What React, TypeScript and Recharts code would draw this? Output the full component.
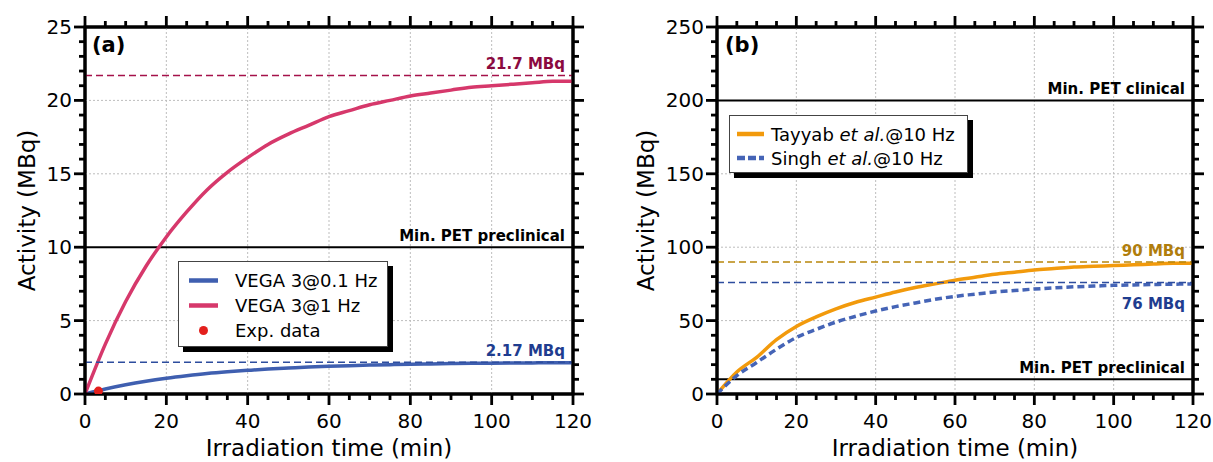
import React from 'react';
import { ComposedChart, Line, Scatter, XAxis, YAxis, ReferenceLine, ReferenceArea, Legend } from 'recharts';

const FONT = '"DejaVu Sans", Verdana, sans-serif';

// ---------- data ----------
const timeMin = [0, 5, 10, 15, 20, 25, 30, 35, 40, 45, 50, 55, 60, 65, 70, 75, 80, 85, 90, 95, 100, 105, 110, 115, 120];
const vega01Hz = [0, 0.34, 0.63, 0.87, 1.07, 1.24, 1.39, 1.51, 1.61, 1.7, 1.77, 1.84, 1.89, 1.93, 1.97, 2.0, 2.03, 2.05, 2.07, 2.09, 2.1, 2.11, 2.12, 2.13, 2.13];
const vega1Hz = [0, 3.4, 6.3, 8.7, 10.7, 12.4, 13.9, 15.1, 16.1, 17.0, 17.7, 18.3, 18.9, 19.3, 19.7, 20.0, 20.3, 20.5, 20.7, 20.9, 21.0, 21.1, 21.2, 21.3, 21.3];
const expTime = [3.3];
const expActivity = [0.2];
const tayyab10Hz = [0, 15, 25, 37, 46, 52.5, 58, 62.5, 66, 69.5, 72.5, 75, 77.5, 79.5, 81.5, 83, 84.5, 85.5, 86.5, 87, 87.5, 88, 88.5, 89, 89];
const singh10Hz = [0, 12.5, 21.5, 30.5, 38.5, 44, 49, 53, 56.5, 59.5, 62, 64.5, 66.5, 68, 69.5, 70.5, 71.5, 72.3, 73, 73.5, 74, 74.3, 74.6, 74.8, 75];

const xTicks = [0, 5, 10, 15, 20, 25, 30, 35, 40, 45, 50, 55, 60, 65, 70, 75, 80, 85, 90, 95, 100, 105, 110, 115, 120];
const yTicksA = [0, 1, 2, 3, 4, 5, 6, 7, 8, 9, 10, 11, 12, 13, 14, 15, 16, 17, 18, 19, 20, 21, 22, 23, 24, 25];
const yTicksB = [0, 10, 20, 30, 40, 50, 60, 70, 80, 90, 100, 110, 120, 130, 140, 150, 160, 170, 180, 190, 200, 210, 220, 230, 240, 250];
const gridX = [20, 40, 60, 80, 100];
const gridYA = [5, 15, 20];
const gridYB = [50, 100, 150];

const satA1Hz = 21.7;
const satA01Hz = 2.17;
const preclinicalA = 10;
const clinicalB = 200;
const preclinicalB = 10;
const satTayyab = 90;
const satSingh = 76;

const dataVega01 = timeMin.map((t, i) => ({ t, v: vega01Hz[i] }));
const dataVega1 = timeMin.map((t, i) => ({ t, v: vega1Hz[i] }));
const dataExp = expTime.map((t, i) => ({ t, v: expActivity[i] }));
const dataTayyab = timeMin.map((t, i) => ({ t, v: tayyab10Hz[i] }));
const dataSingh = timeMin.map((t, i) => ({ t, v: singh10Hz[i] }));

// ---------- colors ----------
const BLUE = '#3f5fb0';
const PINK = '#d6386b';
const RED = '#e3201d';
const ORANGE = '#f29a0c';
const BLUE_DASH = '#4564b6';
const GRID = '#bdbdbd';

type Side = 'bottom' | 'top' | 'left' | 'right';
const TW = 2.8;

const makeTick = (side: Side, majorStep: number, labels: boolean) => (props: any) => {
  const { x, y, payload } = props;
  const v = Number(payload.value);
  const major = Math.abs(v % majorStep) < 1e-9;
  const len = major ? 11 : 6;
  let mark: any = null;
  let label: any = null;
  if (side === 'bottom') {
    mark = <rect x={x - TW / 2} y={y} width={TW} height={len} fill="#000" />;
    if (labels && major)
      label = (
        <text x={x} y={y + 34} textAnchor="middle" fontFamily={FONT} fontSize={20} fill="#000">
          {v}
        </text>
      );
  } else if (side === 'top') {
    mark = <rect x={x - TW / 2} y={y - len} width={TW} height={len} fill="#000" />;
  } else if (side === 'left') {
    mark = <rect x={x - len} y={y - TW / 2} width={len} height={TW} fill="#000" />;
    if (labels && major)
      label = (
        <text x={x - 13} y={y + 7} textAnchor="end" fontFamily={FONT} fontSize={20} fill="#000">
          {v}
        </text>
      );
  } else {
    mark = <rect x={x} y={y - TW / 2} width={len} height={TW} fill="#000" />;
  }
  return (
    <g>
      {mark}
      {label}
    </g>
  );
};

const refLabel = (text: string, color: string, place: 'above' | 'below') => (props: any) => {
  const vb = props.viewBox || { x: 0, y: 0, width: 0, height: 0 };
  const x = vb.x + vb.width - 8;
  const y = place === 'above' ? vb.y - 6 : vb.y + 27;
  return (
    <text x={x} y={y} textAnchor="end" fill={color} fontFamily={FONT} fontSize={15} fontWeight="bold">
      {text}
    </text>
  );
};

const yTitle = (cx: number) => (props: any) => {
  const vb = props.viewBox || { x: 0, y: 27, width: 85, height: 367 };
  const x = vb.x + cx;
  const y = vb.y + vb.height / 2;
  return (
    <text x={x} y={y} transform={`rotate(-90, ${x}, ${y})`} textAnchor="middle" dominantBaseline="central" fontFamily={FONT} fontSize={23} fill="#000">
      Activity (MBq)
    </text>
  );
};

const xTitle = (props: any) => {
  const vb = props.viewBox || { x: 0, y: 394, width: 0, height: 68 };
  return (
    <text x={vb.x + vb.width / 2} y={vb.y + 62} textAnchor="middle" fontFamily={FONT} fontSize={23} fill="#000">
      Irradiation time (min)
    </text>
  );
};

const axisLineStyle = { stroke: '#000', strokeWidth: 3 };

const LegendA = () => (
  <div
    style={{
      width: 210,
      height: 86,
      boxSizing: 'border-box',
      border: '1px solid #444',
      background: '#fff',
      boxShadow: '5px 5px 0 #000',
      fontFamily: FONT,
      fontSize: 18,
      color: '#000',
      paddingTop: 6,
    }}
  >
    {[
      { name: 'VEGA 3@0.1 Hz', kind: 'line', color: BLUE },
      { name: 'VEGA 3@1 Hz', kind: 'line', color: PINK },
      { name: 'Exp. data', kind: 'dot', color: RED },
    ].map((it) => (
      <div key={it.name} style={{ display: 'flex', alignItems: 'center', height: 25 }}>
        <svg width={56} height={25} style={{ flex: '0 0 auto' }}>
          {it.kind === 'line' ? (
            <rect x={10} y={10.25} width={29} height={4.5} fill={it.color} />
          ) : (
            <circle cx={24.5} cy={12.5} r={4.5} fill={it.color} />
          )}
        </svg>
        <span style={{ whiteSpace: 'nowrap' }}>{it.name}</span>
      </div>
    ))}
  </div>
);

const LegendB = () => (
  <div
    style={{
      width: 239,
      height: 58,
      boxSizing: 'border-box',
      border: '1px solid #444',
      background: '#fff',
      boxShadow: '5px 5px 0 #000',
      fontFamily: FONT,
      fontSize: 18,
      color: '#000',
      paddingTop: 6,
    }}
  >
    {[
      { a: 'Tayyab ', b: 'et al.', c: '@10 Hz', color: ORANGE, dashed: false },
      { a: 'Singh ', b: 'et al.', c: '@10 Hz', color: BLUE_DASH, dashed: true },
    ].map((it) => (
      <div key={it.a} style={{ display: 'flex', alignItems: 'center', height: 24 }}>
        <svg width={41} height={24} style={{ flex: '0 0 auto' }}>
          {it.dashed ? (
            <g>
              <rect x={7} y={9.75} width={8} height={4.5} fill={it.color} />
              <rect x={18} y={9.75} width={8} height={4.5} fill={it.color} />
              <rect x={29} y={9.75} width={5} height={4.5} fill={it.color} />
            </g>
          ) : (
            <rect x={7} y={9.75} width={27} height={4.5} fill={it.color} />
          )}
        </svg>
        <span style={{ whiteSpace: 'nowrap' }}>
          {it.a}
          <i>{it.b}</i>
          {it.c}
        </span>
      </div>
    ))}
  </div>
);

// Top and right mirror axes need a non-zero size, otherwise Recharts skips drawing them.
const commonAxes = (yTicks: number[], yMax: number, yMajor: number, yWidth: number, titleX: number) => [
  <XAxis
    key="xb"
    dataKey="t"
    type="number"
    domain={[0, 120]}
    ticks={xTicks}
    interval={0}
    allowDataOverflow
    height={68}
    tickSize={0}
    tickMargin={0}
    tickLine={false}
    axisLine={axisLineStyle}
    tick={makeTick('bottom', 20, true)}
    label={xTitle}
  />,
  <XAxis
    key="xt"
    xAxisId="top"
    orientation="top"
    dataKey="t"
    type="number"
    domain={[0, 120]}
    ticks={xTicks}
    interval={0}
    allowDataOverflow
    height={1}
    tickSize={0}
    tickMargin={0}
    tickLine={false}
    axisLine={axisLineStyle}
    tick={makeTick('top', 20, false)}
  />,
  <YAxis
    key="yl"
    type="number"
    domain={[0, yMax]}
    ticks={yTicks}
    interval={0}
    allowDataOverflow
    width={yWidth}
    tickSize={0}
    tickMargin={0}
    tickLine={false}
    axisLine={axisLineStyle}
    tick={makeTick('left', yMajor, true)}
    label={yTitle(titleX)}
  />,
  <YAxis
    key="yr"
    yAxisId="right"
    orientation="right"
    type="number"
    domain={[0, yMax]}
    ticks={yTicks}
    interval={0}
    allowDataOverflow
    width={1}
    tickSize={0}
    tickMargin={0}
    tickLine={false}
    axisLine={axisLineStyle}
    tick={makeTick('right', yMajor, false)}
  />,
];

const gridLines = (ys: number[]) => [
  ...gridX.map((v) => <ReferenceLine key={`gx${v}`} x={v} stroke={GRID} strokeWidth={1} strokeDasharray="2 2" />),
  ...ys.map((v) => <ReferenceLine key={`gy${v}`} y={v} stroke={GRID} strokeWidth={1} strokeDasharray="2 2" />),
];

// Invisible copy attached to the top/right mirror axes.
const mirrorCarrier = (data: any[]) => (
  <Line
    xAxisId="top"
    yAxisId="right"
    data={data}
    dataKey="v"
    stroke="none"
    strokeWidth={0}
    dot={false}
    activeDot={false}
    legendType="none"
    isAnimationActive={false}
  />
);

const PanelA = () => (
  <ComposedChart width={600} height={462} margin={{ top: 26, right: 26, bottom: 0, left: 0 }}>
    {commonAxes(yTicksA, 25, 5, 85, 27)}
    {gridLines(gridYA)}
    {mirrorCarrier(dataVega1)}
    <ReferenceLine y={preclinicalA} stroke="#000" strokeWidth={2} label={refLabel('Min. PET preclinical', '#000', 'above')} />
    <ReferenceLine y={satA1Hz} stroke="#a5114a" strokeWidth={1.5} strokeDasharray="7 4" label={refLabel('21.7 MBq', '#8b0a3f', 'above')} />
    <Line data={dataVega01} dataKey="v" type="monotone" stroke={BLUE} strokeWidth={3.5} dot={false} activeDot={false} isAnimationActive={false} />
    <Line data={dataVega1} dataKey="v" type="monotone" stroke={PINK} strokeWidth={3.5} dot={false} activeDot={false} isAnimationActive={false} />
    <ReferenceLine y={satA01Hz} stroke="#2d4d9e" strokeWidth={1.5} strokeDasharray="7 4" label={refLabel('2.17 MBq', '#1f3d8f', 'above')} />
    <Scatter
      data={dataExp}
      dataKey="v"
      fill={RED}
      isAnimationActive={false}
      shape={(p: any) => <circle cx={p.cx} cy={p.cy} r={4.5} fill={RED} />}
    />
    <ReferenceArea x1={0} x2={120} y1={0} y2={25} fill="none" fillOpacity={0} stroke="#000" strokeWidth={3} ifOverflow="visible" />
    <Legend
      layout="vertical"
      align="center"
      verticalAlign="middle"
      content={() => <LegendA />}
      wrapperStyle={{ position: 'absolute', left: 178, top: 261, width: 210, height: 86 }}
    />
  </ComposedChart>
);

const PanelB = () => (
  <ComposedChart width={607} height={462} margin={{ top: 26, right: 19, bottom: 0, left: 0 }}>
    {commonAxes(yTicksB, 250, 50, 111, 40)}
    {gridLines(gridYB)}
    {mirrorCarrier(dataTayyab)}
    <ReferenceLine y={clinicalB} stroke="#000" strokeWidth={2} label={refLabel('Min. PET clinical', '#000', 'above')} />
    <ReferenceLine y={preclinicalB} stroke="#000" strokeWidth={2} label={refLabel('Min. PET preclinical', '#000', 'above')} />
    <Line data={dataTayyab} dataKey="v" type="monotone" stroke={ORANGE} strokeWidth={3.5} dot={false} activeDot={false} isAnimationActive={false} />
    <Line data={dataSingh} dataKey="v" type="monotone" stroke={BLUE_DASH} strokeWidth={3.5} strokeDasharray="7 4" dot={false} activeDot={false} isAnimationActive={false} />
    <ReferenceLine y={satTayyab} stroke="#b8860b" strokeWidth={1.5} strokeDasharray="7 4" label={refLabel('90 MBq', '#b07d0c', 'above')} />
    <ReferenceLine y={satSingh} stroke="#2d4d9e" strokeWidth={1.5} strokeDasharray="7 4" label={refLabel('76 MBq', '#1f3d8f', 'below')} />
    <ReferenceArea x1={0} x2={120} y1={0} y2={250} fill="none" fillOpacity={0} stroke="#000" strokeWidth={3} ifOverflow="visible" />
    <Legend
      layout="vertical"
      align="center"
      verticalAlign="middle"
      content={() => <LegendB />}
      wrapperStyle={{ position: 'absolute', left: 123, top: 115, width: 239, height: 58 }}
    />
  </ComposedChart>
);

export default function App() {
  return (
    <div style={{ position: 'absolute', left: 0, top: 0, width: 1213, height: 462, background: '#fff', overflow: 'hidden' }}>
      <div style={{ position: 'absolute', left: 0, top: 0 }}>
        <PanelA />
      </div>
      <div style={{ position: 'absolute', left: 606, top: 0 }}>
        <PanelB />
      </div>
      <div style={{ position: 'absolute', left: 92, top: 33, fontFamily: FONT, fontWeight: 'bold', fontSize: 21, color: '#000' }}>(a)</div>
      <div style={{ position: 'absolute', left: 725, top: 33, fontFamily: FONT, fontWeight: 'bold', fontSize: 21, color: '#000' }}>(b)</div>
    </div>
  );
}
